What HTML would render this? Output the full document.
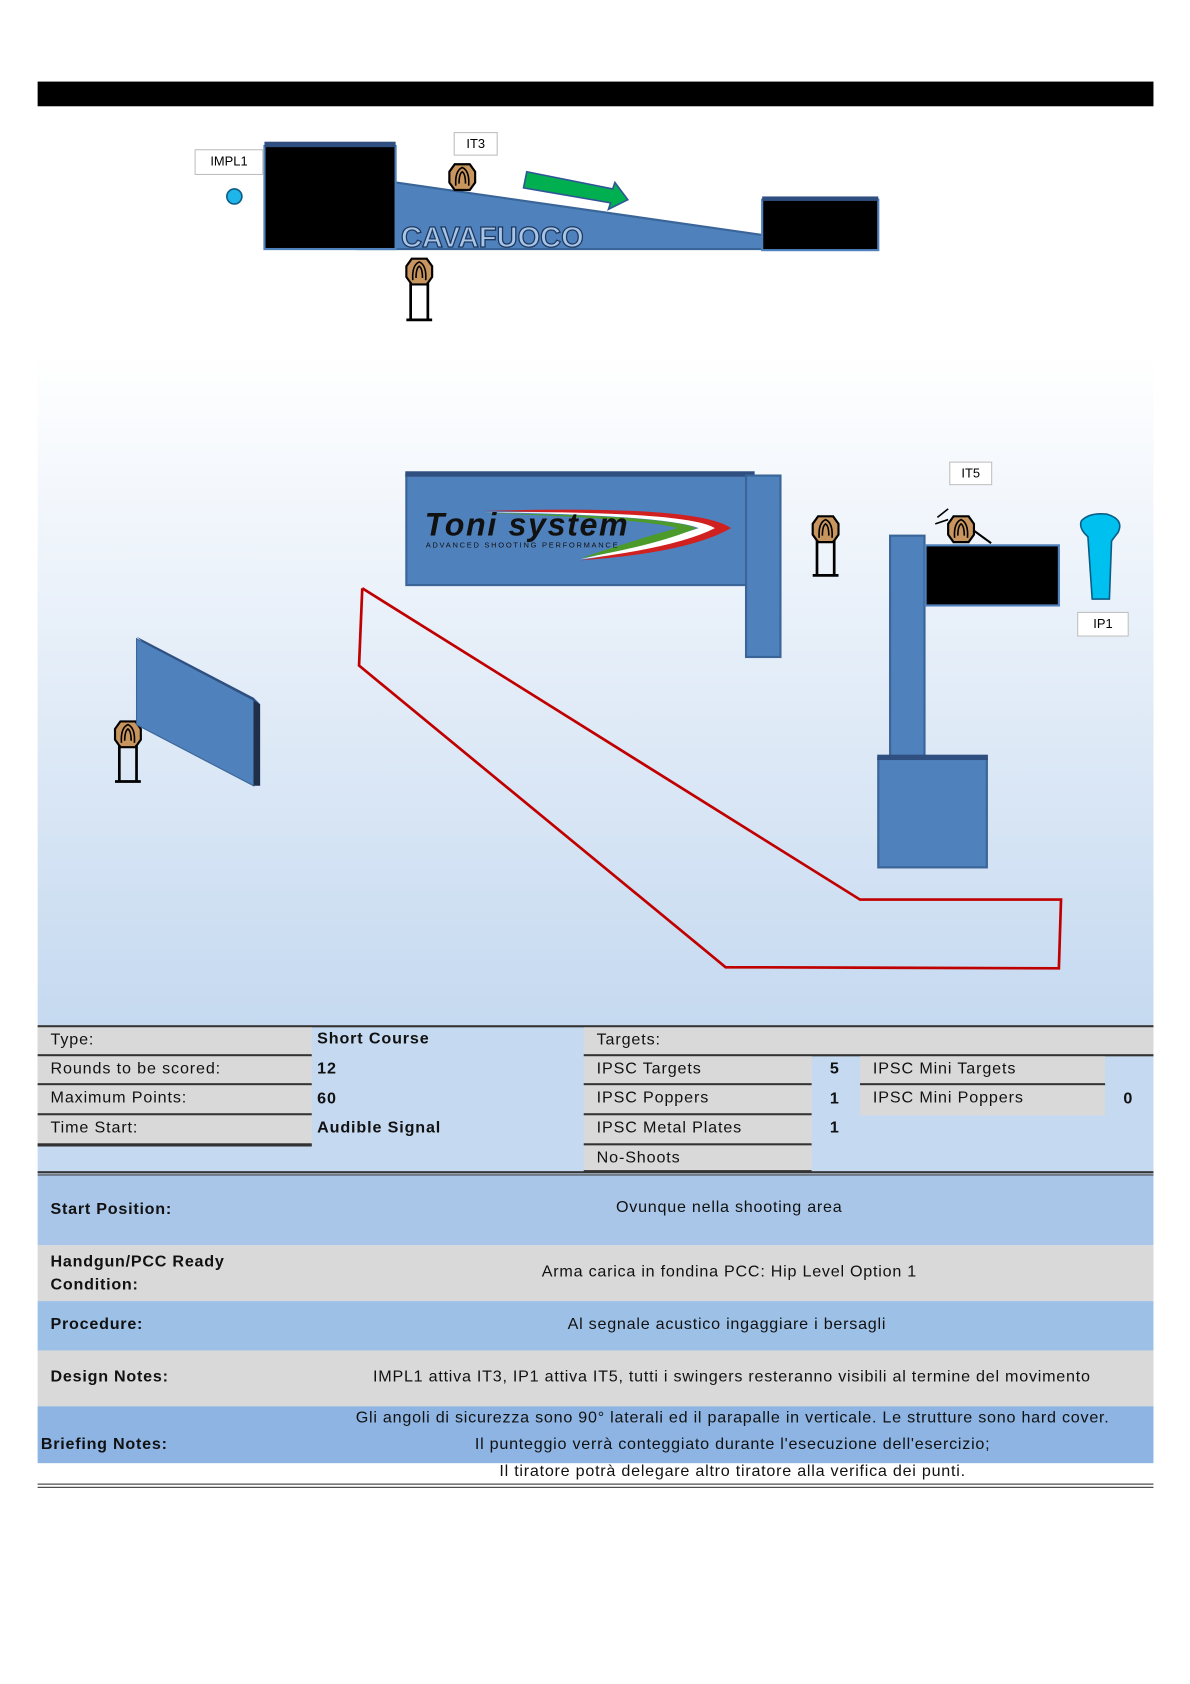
<!DOCTYPE html>
<html><head><meta charset="utf-8"><style>
html,body{margin:0;padding:0;background:#fff;width:1190px;height:1684px;overflow:hidden}
#w{position:absolute;left:0;top:0;width:1100px;height:1557px;transform:scale(1.075,1.0735);transform-origin:0 0;font-family:"Liberation Sans",sans-serif;}
.a{position:absolute}
.lbl{position:absolute;border:1.5px solid #bfbfbf;background:#fff;font-size:12px;text-align:center;box-sizing:border-box;line-height:20px}
.c{position:absolute;font-size:15px;box-sizing:border-box;padding-left:12px;line-height:24px;color:#111;letter-spacing:0.8px;white-space:nowrap}
.g{background:#d9d9d9;border-bottom:2px solid #333}
.b{font-weight:bold}
.row{position:absolute;left:35px;width:1038px;font-size:15px;color:#111;letter-spacing:0.7px;white-space:nowrap}
</style></head><body><div id="w">
<div class="a" style="left:35px;top:76px;width:1038px;height:23px;background:#000"></div>
<div class="a" style="left:35px;top:330px;width:1038px;height:625px;background:linear-gradient(#fff,#c5d9f0)"></div>
<svg class="a" style="left:0;top:0" width="1100" height="960">
<defs><g id="t"><polygon points="-7,-12 7,-12 12,-5 12,5 7,12 -7,12 -12,5 -12,-5" fill="#c8955e" stroke="#000" stroke-width="2"/><path d="M-6,8 Q-7,-6 0,-9 Q7,-6 6,8 M-3,6 Q-3,-3 0,-5 Q3,-3 3,6" fill="none" stroke="#000" stroke-width="1.5"/></g></defs>
<polygon points="368,170 710,219 710,232 333,232" fill="#4f81bd" stroke="#3a6598" stroke-width="2"/>
<text x="373" y="230" font-family="Liberation Sans" font-weight="bold" font-size="27" fill="#a8c4e6" stroke="#1f3a60" stroke-width="1.2">CAVAFUOCO</text>
<rect x="246" y="136" width="122" height="96" fill="#000" stroke="#4f81bd" stroke-width="2"/>
<rect x="246" y="132" width="122" height="5" fill="#2f4f80"/>
<rect x="709" y="186" width="108" height="47" fill="#000" stroke="#4f81bd" stroke-width="2"/>
<rect x="709" y="183" width="108" height="4" fill="#2f4f80"/>
<circle cx="218" cy="183" r="7" fill="#1fb5e8" stroke="#0b5d87" stroke-width="1.5"/>
<polygon points="490,160 570,176 572,170 584,186 566,195 568,189 487,175" fill="#00b050" stroke="#2f5597" stroke-width="1.5"/>
<use href="#t" x="430" y="165"/>
<g transform="translate(390,253)"><use href="#t"/><path d="M-8,10 V45 M8,10 V45 M-12,45 H12" stroke="#000" stroke-width="2.5" fill="none"/></g>
<g transform="translate(768,493)"><use href="#t"/><path d="M-8,10 V43 M8,10 V43 M-12,43 H12" stroke="#000" stroke-width="2.5" fill="none"/></g>
<g transform="translate(119,684)"><use href="#t"/><path d="M-8,10 V44 M8,10 V44 M-12,44 H12" stroke="#000" stroke-width="2.5" fill="none"/></g>
<rect x="378" y="443" width="318" height="102" fill="#4f81bd" stroke="#3a6598" stroke-width="2"/>
<rect x="377" y="439" width="325" height="5" fill="#2f4f80"/>
<rect x="694" y="443" width="32" height="169" fill="#4f81bd" stroke="#3a6598" stroke-width="2"/>
<path d="M450,476 Q650,470 680,492 Q640,515 540,522 Q640,505 665,492 Q630,478 450,476Z" fill="#d02020"/>
<path d="M450,477 Q640,476 665,492 Q630,510 540,521 Q620,502 650,492 Q620,480 450,477Z" fill="#fff"/>
<path d="M450,478 Q620,480 648,492 Q610,508 540,520 Q600,500 630,492 Q600,483 450,478Z" fill="#4c9a2a"/>
<text x="395" y="499" font-family="Liberation Sans" font-weight="bold" font-style="italic" font-size="30" letter-spacing="1.5" fill="#111">Toni system</text>
<text x="396" y="510" font-family="Liberation Sans" font-size="7" letter-spacing="1.6" fill="#111">ADVANCED SHOOTING PERFORMANCE</text>
<polygon points="127,595 236,652 236,732 127,675" fill="#4f81bd" stroke="#3a6598"/>
<polygon points="236,652 242,656 242,732 236,732" fill="#1f2f4a"/>
<polygon points="127,593 236,650 242,656 133,598" fill="#2f4f80"/>
<polyline points="337,548 800,838 987,838 985,902 675,901 334,620 337,548" fill="none" stroke="#c00000" stroke-width="2.5"/>
<rect x="828" y="499" width="32" height="207" fill="#4f81bd" stroke="#3a6598" stroke-width="2"/>
<rect x="861" y="508" width="124" height="56" fill="#000" stroke="#4f81bd" stroke-width="2"/>
<rect x="817" y="707" width="101" height="101" fill="#4f81bd" stroke="#3a6598" stroke-width="2"/>
<rect x="816" y="703" width="103" height="5" fill="#2f4f80"/>
<line x1="900" y1="490" x2="922" y2="506" stroke="#000" stroke-width="2"/>
<use href="#t" x="894" y="493"/>
<path d="M872,482 l10,-8 M870,488 l12,-4" stroke="#000" stroke-width="1.5"/>
<path d="M1012,500 Q1003,492 1006,485 Q1014,477 1030,479 Q1046,484 1040,496 Q1036,501 1034,504 L1032,558 L1016,558 Z" fill="#00c0f0" stroke="#0b5d87" stroke-width="1.5"/>
</svg>
<div class="lbl" style="left:181px;top:139px;width:64px;height:24px">IMPL1</div>
<div class="lbl" style="left:422px;top:123px;width:41px;height:22px">IT3</div>
<div class="lbl" style="left:883px;top:430px;width:40px;height:22px">IT5</div>
<div class="lbl" style="left:1002px;top:570px;width:48px;height:23px">IP1</div>

<div class="a" style="left:35px;top:955px;width:1038px;height:137px;background:#c5d9f0;border-top:2px solid #333"></div>
<div class="c g" style="left:35px;top:957px;width:255px;height:27px">Type:</div>
<div class="c g" style="left:35px;top:984px;width:255px;height:27px">Rounds to be scored:</div>
<div class="c g" style="left:35px;top:1011px;width:255px;height:28px">Maximum Points:</div>
<div class="c g" style="left:35px;top:1039px;width:255px;height:28px">Time Start:</div>
<div class="c" style="left:35px;top:1066px;width:255px;height:2px;background:#333"></div>
<div class="c b" style="left:283px;top:956px">Short Course</div>
<div class="c b" style="left:283px;top:984px">12</div>
<div class="c b" style="left:283px;top:1012px">60</div>
<div class="c b" style="left:283px;top:1039px">Audible Signal</div>
<div class="c g" style="left:543px;top:957px;width:530px;height:27px">Targets:</div>
<div class="c g" style="left:543px;top:984px;width:212px;height:27px">IPSC Targets</div>
<div class="c g" style="left:543px;top:1011px;width:212px;height:28px">IPSC Poppers</div>
<div class="c g" style="left:543px;top:1039px;width:212px;height:28px">IPSC Metal Plates</div>
<div class="c g" style="left:543px;top:1067px;width:212px;height:25px">No-Shoots</div>
<div class="c b" style="left:760px;top:984px">5</div>
<div class="c b" style="left:760px;top:1012px">1</div>
<div class="c b" style="left:760px;top:1039px">1</div>
<div class="c g" style="left:800px;top:984px;width:228px;height:27px">IPSC Mini Targets</div>
<div class="c" style="left:800px;top:1011px;width:228px;height:28px;background:#d9d9d9">IPSC Mini Poppers</div>
<div class="c b" style="left:1033px;top:1012px">0</div>
<div class="a" style="left:35px;top:1091px;width:1038px;height:4px;border-top:2px solid #333;border-bottom:1px solid #333;box-sizing:border-box"></div>

<div class="row" style="top:1095px;height:65px;background:#a9c6e8"><span class="a b" style="left:12px;top:23px">Start Position:</span><span class="a" style="left:538px;top:21px">Ovunque nella shooting area</span></div>
<div class="row" style="top:1160px;height:52px;background:#d9d9d9"><span class="a b" style="left:12px;top:5px;line-height:21px">Handgun/PCC Ready<br>Condition:</span><span class="a" style="left:469px;top:16px">Arma carica in fondina PCC: Hip Level Option 1</span></div>
<div class="row" style="top:1212px;height:46px;background:#9dc0e6"><span class="a b" style="left:12px;top:13px">Procedure:</span><span class="a" style="left:493px;top:13px">Al segnale acustico ingaggiare i bersagli</span></div>
<div class="row" style="top:1258px;height:52px;background:#d9d9d9"><span class="a b" style="left:12px;top:16px">Design Notes:</span><span class="a" style="left:312px;top:16px">IMPL1 attiva IT3, IP1 attiva IT5, tutti i swingers resteranno visibili al termine del movimento</span></div>
<div class="row" style="top:1310px;height:53px;background:#8db4e2"><span class="a b" style="left:3px;top:27px">Briefing Notes:</span>
<span class="a" style="left:0;width:1293px;text-align:center;top:2px">Gli angoli di sicurezza sono 90° laterali ed il parapalle in verticale. Le strutture sono hard cover.</span>
<span class="a" style="left:0;width:1293px;text-align:center;top:27px">Il punteggio verrà conteggiato durante l'esecuzione dell'esercizio;</span></div>
<div class="row" style="top:1361px;height:20px;text-align:center"><span class="a" style="left:0;width:1293px;top:1px">Il tiratore potrà delegare altro tiratore alla verifica dei punti.</span></div>
<div class="a" style="left:35px;top:1382px;width:1038px;height:4px;border-top:1.5px solid #333;border-bottom:1.5px solid #333;box-sizing:border-box"></div>
</div></body></html>
